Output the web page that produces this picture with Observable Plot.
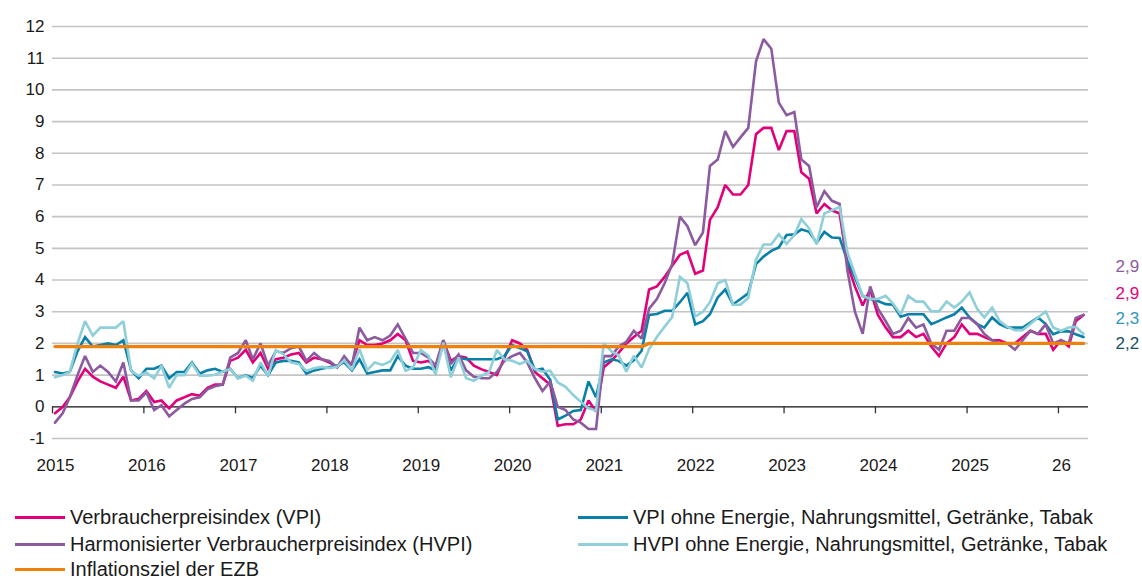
<!DOCTYPE html>
<html><head><meta charset="utf-8">
<script src="https://cdn.jsdelivr.net/npm/d3@7"></script>
<script src="https://cdn.jsdelivr.net/npm/@observablehq/plot@0.6"></script>
<style>
body{margin:0;background:#fff;font-family:"Liberation Sans",Arial,sans-serif;}
#legend{position:relative;width:1142px;height:90px;}
.item{position:absolute;display:flex;align-items:center;font-size:20px;color:#1a1a1a;white-space:nowrap;line-height:20px;height:20px;}
.sw{width:50px;height:3px;margin-right:5px;flex:none;}
</style></head><body>
<div id="chart"></div>
<div id="legend"></div>
<script>
// Monthly values, Jan 2015 – Apr 2026 (year-on-year change in %)
const vpi = [
 -0.2,0.0,0.3,0.8,1.2,0.95,0.8,0.7,0.6,0.95,0.2,0.25,
 0.5,0.15,0.2,-0.05,0.2,0.3,0.4,0.35,0.6,0.7,0.7,1.45,
 1.55,1.8,1.4,1.7,1.2,1.5,1.55,1.65,1.7,1.4,1.55,1.5,
 1.4,1.25,1.45,1.35,2.1,1.95,1.95,2.0,2.1,2.3,2.1,1.45,
 1.4,1.45,1.25,2.1,1.45,1.6,1.55,1.3,1.18,1.1,1.0,1.55,
 2.1,2.0,1.8,1.1,0.9,0.7,-0.6,-0.55,-0.55,-0.4,0.2,-0.15,
 1.25,1.45,1.7,2.0,2.2,2.4,3.7,3.8,4.1,4.45,4.8,4.9,
 4.2,4.3,5.9,6.3,7.0,6.7,6.7,7.0,8.6,8.8,8.8,8.1,
 8.7,8.7,7.4,7.2,6.1,6.4,6.2,6.1,4.5,3.8,3.2,3.7,
 2.9,2.5,2.2,2.2,2.4,2.2,2.3,1.9,1.6,2.0,2.2,2.6,
 2.3,2.3,2.2,2.1,2.1,2.0,2.0,2.2,2.4,2.3,2.3,1.8,
 2.1,1.9,2.7,2.9];
const vpiKern = [
 1.1,1.05,1.1,1.75,2.2,1.9,1.95,2.0,1.95,2.1,1.15,0.9,
 1.2,1.2,1.3,0.9,1.1,1.1,1.4,1.05,1.15,1.2,1.1,1.2,
 0.9,1.0,0.9,1.3,1.0,1.4,1.45,1.45,1.4,1.05,1.15,1.2,
 1.25,1.3,1.4,1.15,1.5,1.05,1.1,1.15,1.15,1.6,1.3,1.2,
 1.2,1.25,1.15,2.0,1.15,1.55,1.5,1.5,1.5,1.5,1.5,1.6,
 1.95,1.85,1.75,1.15,1.2,0.85,-0.4,-0.28,-0.13,-0.1,0.8,0.3,
 1.4,1.5,1.45,1.3,1.47,1.77,2.9,2.93,3.03,3.03,3.3,3.6,
 2.6,2.7,2.92,3.45,3.7,3.23,3.4,3.58,4.5,4.74,4.92,5.03,
 5.42,5.44,5.6,5.52,5.18,5.52,5.34,5.33,4.6,4.08,3.5,3.4,
 3.34,3.24,3.22,2.84,2.92,2.92,2.92,2.61,2.71,2.82,2.92,3.13,
 2.82,2.61,2.5,2.82,2.61,2.5,2.5,2.5,2.66,2.82,2.61,2.29,
 2.38,2.38,2.29,2.2];
const hvpi = [
 -0.5,-0.2,0.3,1.0,1.6,1.1,1.3,1.1,0.8,1.4,0.2,0.2,
 0.45,-0.1,0.05,-0.3,-0.1,0.1,0.25,0.3,0.55,0.65,0.7,1.55,
 1.7,2.1,1.5,2.0,1.3,1.75,1.7,1.85,1.9,1.45,1.7,1.5,
 1.45,1.25,1.6,1.3,2.5,2.1,2.2,2.1,2.25,2.6,2.15,1.7,
 1.7,1.55,1.3,2.1,1.35,1.65,1.15,0.95,0.9,0.9,1.1,1.45,
 1.6,1.7,1.4,0.9,0.5,0.8,0.0,-0.1,-0.4,-0.5,-0.7,-0.7,
 1.6,1.6,1.9,2.05,2.4,2.15,3.1,3.4,3.9,4.5,6.0,5.7,
 5.1,5.5,7.6,7.8,8.7,8.2,8.5,8.8,10.9,11.6,11.3,9.6,
 9.2,9.3,7.8,7.6,6.3,6.8,6.5,6.4,4.3,3.0,2.3,3.8,
 3.1,2.7,2.3,2.4,2.8,2.5,2.6,2.0,1.8,2.4,2.4,2.8,
 2.8,2.6,2.3,2.1,2.0,2.0,1.8,2.1,2.4,2.3,2.6,2.0,
 2.1,2.0,2.8,2.9];
const hvpiKern = [
 0.93,1.0,1.1,2.0,2.7,2.25,2.5,2.5,2.5,2.7,1.13,0.98,
 1.08,0.9,1.3,0.6,1.0,1.0,1.37,0.98,0.98,1.01,1.11,1.19,
 0.9,0.98,0.82,1.4,0.98,1.79,1.66,1.4,1.35,1.14,1.22,1.26,
 1.22,1.26,1.47,1.16,1.82,1.16,1.4,1.32,1.43,1.79,1.14,1.24,
 1.79,1.61,1.01,2.03,0.93,1.56,0.9,0.82,0.98,1.1,1.79,1.5,
 1.45,1.35,1.45,1.19,1.11,1.14,0.77,0.63,0.37,0.16,-0.05,-0.12,
 2.0,1.75,1.63,1.11,1.61,1.24,1.82,2.2,2.53,2.83,4.1,3.9,
 2.85,3.0,3.3,3.9,4.0,3.23,3.22,3.44,4.65,5.12,5.12,5.45,
 5.14,5.42,5.92,5.63,5.13,6.1,6.2,6.3,4.87,4.19,3.5,3.4,
 3.4,3.5,3.26,2.92,3.5,3.32,3.32,3.01,3.01,3.32,3.13,3.32,
 3.61,3.08,2.82,3.13,2.71,2.52,2.42,2.42,2.61,2.82,3.01,2.5,
 2.4,2.5,2.52,2.3];
// ECB inflation target: below but close to 2 % until June 2021, 2 % from July 2021
const ezbMonths = [0, 77, 78, 135];
const ezbZiel = [1.9, 1.9, 2.0, 2.0];

const yTicks = [-1,0,1,2,3,4,5,6,7,8,9,10,11,12];
const yearTicks = [2015,2016,2017,2018,2019,2020,2021,2022,2023,2024,2025,2026];
const yearLabels = ["2015","2016","2017","2018","2019","2020","2021","2022","2023","2024","2025","26"];

const series = [
  {key:"vpi", name:"Verbraucherpreisindex (VPI)", color:"#e2007a", values:vpi},
  {key:"vpiKern", name:"VPI ohne Energie, Nahrungsmittel, Getränke, Tabak", color:"#0a80a8", values:vpiKern},
  {key:"hvpi", name:"Harmonisierter Verbraucherpreisindex (HVPI)", color:"#8b5a9f", values:hvpi},
  {key:"hvpiKern", name:"HVPI ohne Energie, Nahrungsmittel, Getränke, Tabak", color:"#8ecfd9", values:hvpiKern}
];
const endLabels = [
  {key:"hvpi", text:"2,9", color:"#8b5a9f", dy:-48},
  {key:"vpi", text:"2,9", color:"#e2007a", dy:-21},
  {key:"hvpiKern", text:"2,3", color:"#2f97bb", dy:-15},
  {key:"vpiKern", text:"2,2", color:"#164f63", dy:6}
];

const monthDate = i => new Date(Date.UTC(2015, i, 11));
const rows = [];
for (const s of series) s.values.forEach((v,i) => rows.push({key:s.key, date:monthDate(i), value:v}));
const ezbRows = ezbMonths.map((m,k) => ({date:monthDate(m), value:ezbZiel[k]}));
const tickDates = yearTicks.map(y => new Date(Date.UTC(y,0,1)));

const marks = [
  Plot.ruleY(yTicks.filter(d => d !== 0), {stroke:"#c4c4c4", strokeWidth:1.6}),
  Plot.ruleY([0], {stroke:"#111", strokeWidth:1.3}),
  Plot.ruleX(tickDates, {y1:0, y2:-0.22, stroke:"#333", strokeWidth:1.3}),
  Plot.axisY({ticks:yTicks, tickSize:0, tickPadding:8, tickFormat:d => String(d), fontSize:17, fill:"#1a1a1a", label:null}),
  Plot.axisX({ticks:tickDates, tickSize:0, tickPadding:20, tickFormat:(d,i) => yearLabels[i], fontSize:17, fill:"#1a1a1a", dx:3, label:null})
];
for (const s of series) {
  marks.push(Plot.line(rows.filter(r => r.key === s.key), {x:"date", y:"value", stroke:s.color, strokeWidth:2.6, strokeLinejoin:"miter", strokeMiterlimit:2}));
}
marks.push(Plot.line(ezbRows, {x:"date", y:"value", stroke:"#f0800c", strokeWidth:3.4}));
const lastIdx = vpi.length - 1;
const endRows = endLabels.map(l => {
  const s = series.find(s => s.key === l.key);
  return {date:monthDate(lastIdx), value:s.values[lastIdx], text:l.text, color:l.color, dy:l.dy};
});
for (const r of endRows) {
  marks.push(Plot.text([r], {x:"date", y:"value", text:"text", fill:r.color, dx:32, dy:r.dy, textAnchor:"start", fontSize:17}));
}

const plot = Plot.plot({
  width:1142, height:490,
  marginLeft:52, marginRight:54, marginTop:26, marginBottom:52,
  x:{type:"utc", domain:[new Date(Date.UTC(2015,0,1)), new Date(Date.UTC(2026,4,1))], axis:null},
  y:{domain:[-1,12], axis:null},
  style:{fontFamily:"'Liberation Sans', Arial, sans-serif", fontSize:"17px", background:"#fff", overflow:"visible"},
  marks
});
document.getElementById("chart").appendChild(plot);

// Legend
const legendItems = [
  {label:series[0].name, color:series[0].color, left:15, top:27},
  {label:series[2].name, color:series[2].color, left:15, top:54},
  {label:"Inflationsziel der EZB", color:"#f0800c", left:15, top:79},
  {label:series[1].name, color:series[1].color, left:578, top:27},
  {label:series[3].name, color:series[3].color, left:578, top:54}
];
const leg = document.getElementById("legend");
for (const it of legendItems) {
  const d = document.createElement("div");
  d.className = "item";
  d.style.left = it.left + "px";
  d.style.top = (it.top - 10) + "px";
  const sw = document.createElement("span");
  sw.className = "sw"; sw.style.background = it.color;
  const tx = document.createElement("span");
  tx.textContent = it.label;
  d.appendChild(sw); d.appendChild(tx);
  leg.appendChild(d);
}
</script>
</body></html>
